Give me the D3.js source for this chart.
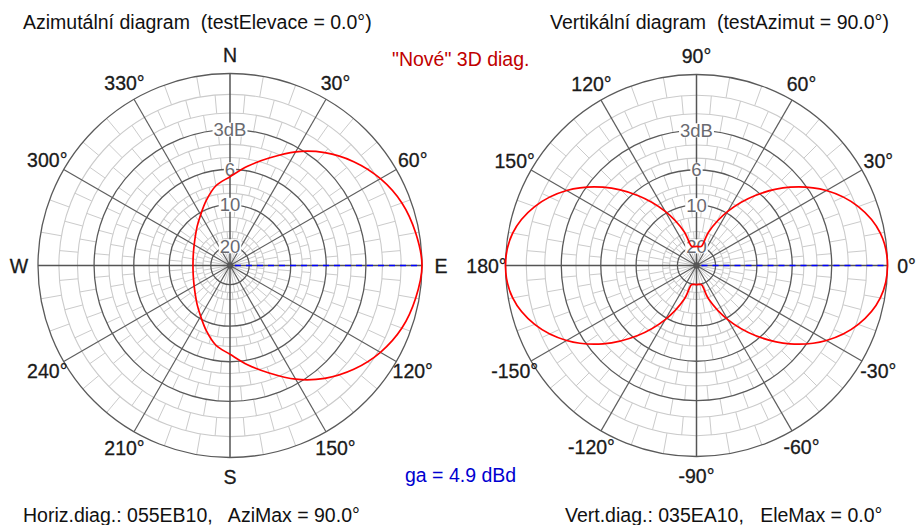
<!DOCTYPE html>
<html><head><meta charset="utf-8">
<script src="https://cdn.jsdelivr.net/npm/d3@7"></script>
<style>
html,body{margin:0;padding:0;background:#fff;}
svg{display:block;font-family:"Liberation Sans",Arial,sans-serif;}
text{white-space:pre;}
</style></head><body>
<svg id="c" width="920" height="525"></svg>
<script>
// ---------- data ----------
const majorRingsDb = [0, 3, 6, 10, 20];
const minorRingsDb = [1, 2, 4, 5, 7.5, 8.5, 12, 15, 17];
const ringLabelDb = [3, 6, 10, 20];
const ringLabelText = ["3dB", "6", "10", "20"];
const spokeAngles = [0, 30, 60, 90, 120, 150, 180, 210, 240, 270, 300, 330];
const azTickLabels = ["N", "30°", "60°", "E", "120°", "150°", "S", "210°", "240°", "W", "300°", "330°"];
const elTickLabels = ["90°", "60°", "30°", "0°", "-30°", "-60°", "-90°", "-120°", "-150°", "180°", "150°", "120°"];

// azimuth pattern (compass degrees, dB relative to max)
const azAngles = [0,10,20,30,40,50,60,70,80,90,100,110,120,130,140,150,160,170,180,
                  190,200,210,220,230,240,250,260,270,280,290,300,310,320,330,340,350];
const azGainDb = [-6.7,-5.6,-4.5,-3.3,-2.3,-1.5,-0.87,-0.42,-0.16,0,-0.16,-0.42,-0.87,-1.5,-2.3,-3.3,-4.5,-5.6,-6.7,
                  -7.5,-8.85,-10.3,-11.5,-12.55,-13.33,-13.87,-14.19,-14.3,-14.19,-13.87,-13.33,-12.55,-11.5,-10.3,-8.85,-7.5];
const azMax = 90;

// elevation pattern (elevation degrees, 0 = right, 90 = up)
const elAngles = [0,10,20,30,40,50,60,70,75,80,90,100,105,110,120,130,140,150,160,170,
                  180,190,200,210,220,230,240,250,255,260,270,280,285,290,300,310,320,330,340,350];
const elGainDb = [0,-0.2,-0.9,-2.1,-3.9,-6.4,-9.7,-14.5,-19.6,-20,-20,-20,-19.6,-14.5,-9.7,-6.4,-3.9,-2.1,-0.9,-0.2,
                  0,-0.2,-0.9,-2.1,-3.9,-6.4,-9.7,-14.5,-19.6,-20,-20,-20,-19.6,-14.5,-9.7,-6.4,-3.9,-2.1,-0.9,-0.2];
const elMax = 0;

const titles = ["Azimutální diagram  (testElevace = 0.0°)", "Vertikální diagram  (testAzimut = 90.0°)"];
const footers = ["Horiz.diag.: 055EB10,   AziMax = 90.0°", "Vert.diag.: 035EA10,   EleMax = 0.0°"];
const centerNote = "\"Nové\" 3D diag.";
const gainNote = "ga = 4.9 dBd";

// ---------- drawing ----------
const svg = d3.select("#c");
const FS = 19.5;
const LIGHT = "#cbcbcb";

function drawPolar(cx, cy, R, tickLabels, angleOf, angles, gains, maxAngle) {
  const g = svg.append("g").attr("transform", `translate(${cx},${cy})`);
  const r = d3.scaleLinear().domain([0, 1]).range([0, R]);
  const rad = db => r(Math.pow(10, -db / 20));
  const toRad = a => a * Math.PI / 180;
  const pt = (a, rr) => [rr * Math.sin(toRad(a)), -rr * Math.cos(toRad(a))];

  // brick-like light spokes between rings
  const allDb = majorRingsDb.concat(minorRingsDb).sort((a, b) => a - b);
  for (let i = 0; i < allDb.length - 1; i++) {
    const rOut = rad(allDb[i]), rIn = rad(allDb[i + 1]);
    const off = (i % 2) ? 5 : 0;
    for (let a = off; a < 360; a += 10) {
      if (a % 30 === 0) continue;
      const p1 = pt(a, rIn), p2 = pt(a, rOut);
      g.append("line").attr("x1", p1[0]).attr("y1", p1[1]).attr("x2", p2[0]).attr("y2", p2[1])
        .attr("stroke", LIGHT).attr("stroke-width", 1);
    }
  }
  // inner light spokes
  for (let a = 0; a < 360; a += 10) {
    if (a % 30 === 0) continue;
    const p1 = pt(a, 3), p2 = pt(a, rad(20));
    g.append("line").attr("x1", p1[0]).attr("y1", p1[1]).attr("x2", p2[0]).attr("y2", p2[1])
      .attr("stroke", LIGHT).attr("stroke-width", 1);
  }
  // minor rings
  g.selectAll(".minor").data(minorRingsDb).enter().append("circle")
    .attr("r", d => rad(d)).attr("fill", "none").attr("stroke", LIGHT).attr("stroke-width", 1.1);
  // major rings
  g.selectAll(".major").data(majorRingsDb).enter().append("circle")
    .attr("r", d => rad(d)).attr("fill", "none").attr("stroke", "#5a5a5a").attr("stroke-width", 1.3);
  // dark spokes
  spokeAngles.forEach(a => {
    const main = a % 90 === 0;
    const p2 = pt(a, R);
    g.append("line").attr("x1", 0).attr("y1", 0).attr("x2", p2[0]).attr("y2", p2[1])
      .attr("stroke", main ? "#555" : "#5e5e5e").attr("stroke-width", main ? 1.5 : 1.2);
  });
  g.append("circle").attr("r", 3.2).attr("fill", "#555");

  // ring labels
  ringLabelDb.forEach((db, i) => {
    const y = -rad(db);
    const t = g.append("text").attr("x", 0).attr("y", y).attr("dy", "0.36em")
      .attr("text-anchor", "middle").attr("font-size", FS - 1).attr("fill", "#6a6a70").text(ringLabelText[i]);
    const bb = t.node().getBBox();
    g.insert("rect", () => t.node()).attr("x", bb.x - 1).attr("y", y - 7).attr("width", bb.width + 2)
      .attr("height", 14).attr("fill", "#fff");
  });

  // degree labels
  spokeAngles.forEach((a, i) => {
    const p = pt(a, R + 19);
    g.append("text").attr("x", p[0]).attr("y", p[1]).attr("dy", "0.36em").attr("text-anchor", "middle")
      .attr("font-size", FS).attr("fill", "#1a1a1a").attr("stroke", "#1a1a1a").attr("stroke-width", 0.3)
      .text(tickLabels[i]);
  });

  // pattern
  const line = d3.lineRadial()
    .angle(d => toRad(angleOf(d[0])))
    .radius(d => r(Math.pow(10, d[1] / 20)))
    .curve(d3.curveCatmullRomClosed.alpha(0.5));
  g.append("path").datum(d3.zip(angles, gains)).attr("d", line)
    .attr("fill", "none").attr("stroke", "#ff0000").attr("stroke-width", 1.7);

  // max direction
  const m1 = pt(angleOf(maxAngle), 5), m2 = pt(angleOf(maxAngle), R);
  g.append("line").attr("x1", m1[0]).attr("y1", m1[1]).attr("x2", m2[0]).attr("y2", m2[1])
    .attr("stroke", "#0000ff").attr("stroke-width", 1.6).attr("stroke-dasharray", "6,5");
}

drawPolar(230, 265.5, 192, azTickLabels, a => a, azAngles, azGainDb, azMax);
drawPolar(696.5, 265.5, 191, elTickLabels, e => 90 - e, elAngles, elGainDb, elMax);

// texts
svg.append("text").attr("x", 23).attr("y", 29).attr("font-size", FS).attr("fill", "#111").text(titles[0]);
svg.append("text").attr("x", 550).attr("y", 29).attr("font-size", FS).attr("fill", "#111").text(titles[1]);
svg.append("text").attr("x", 392).attr("y", 66).attr("font-size", FS).attr("fill", "#c00000").text(centerNote);
svg.append("text").attr("x", 405).attr("y", 482).attr("font-size", FS).attr("fill", "#0000d0").text(gainNote);
svg.append("text").attr("x", 23).attr("y", 521.5).attr("font-size", FS).attr("fill", "#111").text(footers[0]);
svg.append("text").attr("x", 565).attr("y", 521.5).attr("font-size", FS).attr("fill", "#111").text(footers[1]);
</script>
</body></html>
